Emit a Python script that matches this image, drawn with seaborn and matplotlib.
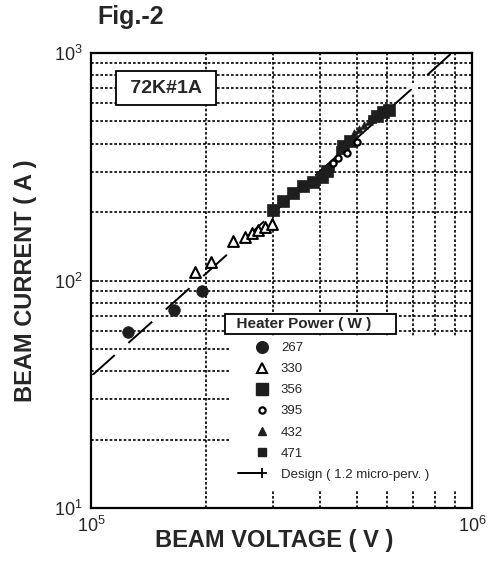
import numpy as np
import matplotlib
matplotlib.use("Agg")
import matplotlib.pyplot as plt
from matplotlib.lines import Line2D
from matplotlib.patches import Rectangle
from matplotlib.legend_handler import HandlerLine2D
from matplotlib.ticker import NullFormatter
import seaborn as sns

# ---------------- Data ----------------
# beam voltage (V) / beam current (A) for each heater power (W)
v_267 = [1.25e5, 1.65e5, 1.96e5]
i_267 = [59.6, 74.2, 89.9]

v_330 = [1.875e5, 2.07e5, 2.36e5, 2.54e5, 2.64e5, 2.75e5, 2.86e5, 2.98e5]
i_330 = [109, 120, 149, 156, 161, 167, 172, 178]

v_356 = [3.00e5, 3.20e5, 3.40e5, 3.61e5, 3.83e5, 4.03e5, 4.16e5,
         4.585e5, 4.78e5, 5.63e5, 5.84e5, 6.06e5]
i_356 = [204, 224, 242, 259, 272, 286, 303, 390, 410, 528, 548, 562]

v_395 = [4.32e5, 4.45e5, 4.69e5, 4.99e5]
i_395 = [328, 345, 362, 406]

v_432 = [4.90e5, 5.05e5, 5.20e5, 5.365e5]
i_432 = [445, 463, 483, 503]

v_471 = [4.24e5, 4.50e5, 5.46e5]
i_471 = [312, 375, 513]

# design line (1.2 micro-perveance)
design_v = [1.0e5, 2.0e5, 3.0e5, 5.0e5, 7.0e5, 8.85e5]
design_i = [37.9, 107, 197, 424, 703, 1000]

# ---------------- Style ----------------
sns.set_style("ticks")
plt.rcParams["font.family"] = ["Liberation Sans", "DejaVu Sans"]
plt.rcParams["mathtext.default"] = "regular"

fig = plt.figure(figsize=(4.91, 5.68), dpi=100)
ax = fig.add_axes([0.1853, 0.1056, 0.776, 0.8011])
ax.set_xscale("log")
ax.set_yscale("log")
ax.set_xlim(1e5, 1e6)
ax.set_ylim(10, 1000)

ax.set_axisbelow(True)
ax.grid(True, which="both", color="black", lw=1.2, ls=(0, (1.6, 1.2)))

# white area behind the legend entries
ax.add_patch(Rectangle((0.365, 0.04), 0.635, 0.336, transform=ax.transAxes,
                       facecolor="white", edgecolor="none", zorder=0.8))

dark = "#1e1e1e"
sns.lineplot(x=design_v, y=design_i, ax=ax, color="black", lw=1.4,
             linestyle=(0, (16.4, 9.4)), marker="+", markersize=7,
             markeredgewidth=1.3, markevery=[0, 4, 5],
             estimator=None, sort=False, legend=False, zorder=1.5)

sns.scatterplot(x=v_267, y=i_267, ax=ax, marker="o", s=70, color=dark,
                edgecolor=dark, linewidth=0.5, zorder=3, legend=False)
sns.scatterplot(x=v_330, y=i_330, ax=ax, marker="^", s=60, facecolor="white",
                edgecolor="black", linewidth=1.5, zorder=3, legend=False)
sns.scatterplot(x=v_356, y=i_356, ax=ax, marker="s", s=80, color=dark,
                edgecolor=dark, linewidth=0.5, zorder=3, legend=False)
sns.scatterplot(x=v_395, y=i_395, ax=ax, marker="o", s=20, facecolor="white",
                edgecolor="black", linewidth=1.6, zorder=3.5, legend=False)
sns.scatterplot(x=v_432, y=i_432, ax=ax, marker="^", s=30, color=dark,
                edgecolor=dark, linewidth=0.5, zorder=3.2, legend=False)
sns.scatterplot(x=v_471, y=i_471, ax=ax, marker="s", s=28, color=dark,
                edgecolor=dark, linewidth=0.5, zorder=3.2, legend=False)

# ---------------- Axes decoration ----------------
for sp in ax.spines.values():
    sp.set_linewidth(1.6)
    sp.set_color("black")
ax.tick_params(which="major", direction="in", length=6, width=1.2,
               labelsize=13, pad=6)
ax.tick_params(which="minor", length=0)
ax.xaxis.set_minor_formatter(NullFormatter())
ax.yaxis.set_minor_formatter(NullFormatter())

ax.set_xlabel("BEAM VOLTAGE ( V )", fontsize=17, fontweight="bold")
ax.set_ylabel("BEAM CURRENT ( A )", fontsize=17, fontweight="bold")
ax.xaxis.set_label_coords(0.48, -0.072)
ax.xaxis.label.set_va("center")
ax.yaxis.set_label_coords(-0.173, 0.5)
ax.yaxis.label.set_va("center")

ax.text(0.197, 0.923, " 72K#1A ", transform=ax.transAxes, fontsize=14,
        fontweight="bold", ha="center", va="center", zorder=4,
        bbox=dict(boxstyle="square,pad=0.45", fc="white", ec="black", lw=1.3))

fig.text(0.1976, 0.970, "Fig.-2", fontsize=18, fontweight="bold",
         ha="left", va="center")

# ---------------- Legend ----------------
class RightMarker(HandlerLine2D):
    # marker drawn at the right end of the handle, as in the original
    def __init__(self):
        super().__init__(numpoints=2, marker_pad=0)

    def create_artists(self, *args, **kwargs):
        arts = super().create_artists(*args, **kwargs)
        for a in arts:
            a.set_markevery([1])
        return arts

handles = [
    Line2D([], [], ls="none", marker="o", ms=8.4, mfc=dark, mec=dark),
    Line2D([], [], ls="none", marker="^", ms=7.7, mfc="white", mec="black", mew=1.5),
    Line2D([], [], ls="none", marker="s", ms=8.9, mfc=dark, mec=dark),
    Line2D([], [], ls="none", marker="o", ms=4.5, mfc="white", mec="black", mew=1.6),
    Line2D([], [], ls="none", marker="^", ms=5.5, mfc=dark, mec=dark),
    Line2D([], [], ls="none", marker="s", ms=5.3, mfc=dark, mec=dark),
    Line2D([], [], color="black", lw=1.4, marker="+", ms=7, mew=1.3),
]
labels = ["267", "330", "356", "395", "432", "471", "Design ( 1.2 micro-perv. )"]

leg = ax.legend(handles, labels, loc="upper left",
                bbox_to_anchor=(0.3858, 0.3648), frameon=False,
                fontsize=9.5, handlelength=1.8, handletextpad=1.45,
                labelspacing=0.67, borderpad=0.0, borderaxespad=0.0,
                handler_map={Line2D: RightMarker()})
leg.set_zorder(5)

ax.text(0.3596, 0.4044, "  Heater Power ( W )     ", transform=ax.transAxes,
        fontsize=11, fontweight="bold", ha="left", va="center", zorder=5,
        bbox=dict(boxstyle="square,pad=0.2", fc="white", ec="black", lw=1.3))

fig.savefig("out.png", dpi=100)
